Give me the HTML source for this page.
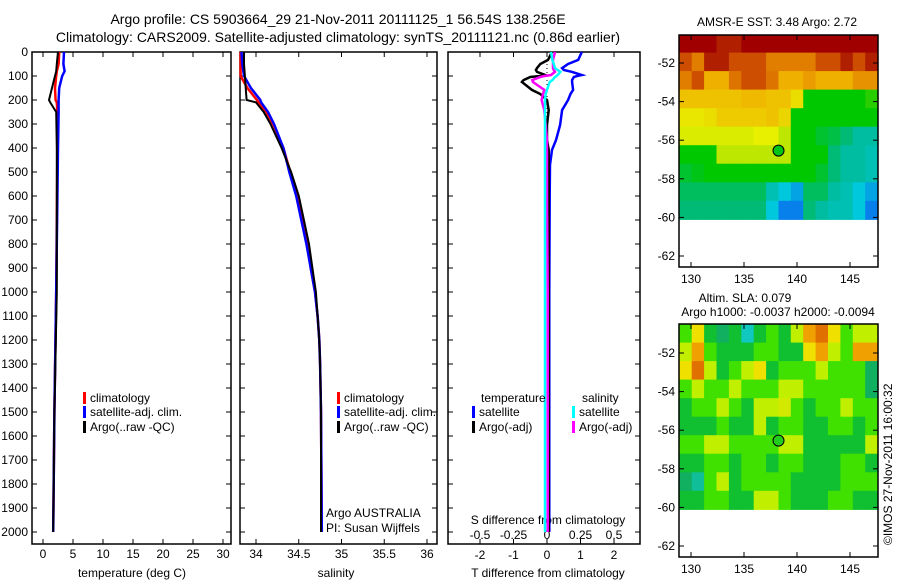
<!DOCTYPE html>
<html><head><meta charset="utf-8"><style>
html,body{margin:0;padding:0;background:#fff;}
svg{display:block;font-family:"Liberation Sans",sans-serif;}
</style></head><body>
<svg id="c" width="900" height="580" viewBox="0 0 900 580">
<text x="338" y="24" text-anchor="middle" font-size="14">Argo profile: CS 5903664_29 21-Nov-2011 20111125_1 56.54S 138.256E</text>
<text x="338" y="42" text-anchor="middle" font-size="14">Climatology: CARS2009. Satellite-adjusted climatology: synTS_20111121.nc (0.86d earlier)</text>
<text x="777" y="26" text-anchor="middle" font-size="12">AMSR-E SST: 3.48 Argo: 2.72</text>
<text x="745" y="302" text-anchor="middle" font-size="12">Altim. SLA: 0.079</text>
<text x="778" y="316" text-anchor="middle" font-size="12">Argo h1000: -0.0037 h2000: -0.0094</text>
<text transform="translate(892,545) rotate(-90)" font-size="12">©IMOS 27-Nov-2011 16:00:32</text>
<g id="g"></g>
</svg>
<script>
// ---- profile data ----
const depthT = [0,50,80,100,150,200,210,250,400,1000,1500,2000];
const tempClim = [2.7,2.6,2.3,2.2,2.0,2.1,2.3,2.4,2.4,2.2,1.9,1.7];
const tempSat  = [3.5,3.4,3.6,3.2,2.7,2.6,2.6,2.6,2.5,2.2,1.9,1.7];
const tempArgo = [2.5,2.3,2.2,2.0,1.5,1.0,1.2,2.2,2.3,2.3,1.9,1.7];
const depthS = [0,50,100,150,200,210,250,300,400,500,600,700,800,900,1000,1100,1200,1300,1500,2000];
const salClim = [33.82,33.82,33.82,33.9,34.01,34.03,34.12,34.2,34.32,34.4,34.48,34.54,34.6,34.64,34.69,34.72,34.74,34.75,34.76,34.77];
const salSat  = [33.83,33.84,33.86,33.94,34.05,34.06,34.14,34.21,34.32,34.39,34.47,34.53,34.59,34.64,34.69,34.72,34.74,34.75,34.76,34.77];
const salArgo = [33.86,33.86,33.87,33.88,33.89,34.0,34.09,34.17,34.3,34.41,34.5,34.56,34.62,34.66,34.7,34.72,34.74,34.75,34.76,34.76];
const depthD = [0,33,50,67,75,83,96,100,104,117,125,158,175,200,242,304,367,408,470,600,1000,2000];
const dTsat  = [1.04,0.93,0.63,0.45,0.5,0.75,1.04,0.9,0.8,0.75,0.75,0.78,0.7,0.63,0.45,0.39,0.27,0.15,0.09,0.08,0.07,0.07];
const dTargo = [0.15,0.03,-0.2,-0.3,-0.33,-0.3,-0.05,-0.2,-0.5,-0.7,-0.75,-0.45,-0.2,0.0,0.05,0.0,0.0,0.05,0.05,0.05,0.05,0.05];
const dSargo = [0.06,0.045,0.045,0.045,0.05,0.06,0.03,-0.02,-0.05,-0.11,-0.105,-0.02,-0.03,-0.04,-0.02,-0.01,0.0,0.0,0.0,0.0,0.005,0.005];
const dSsat  = [0.03,0.04,0.05,0.06,0.08,0.1,0.08,0.07,0.06,0.04,0.02,0.0,-0.01,-0.015,-0.015,-0.015,-0.015,-0.015,-0.015,-0.015,-0.015,-0.015];
const depthTicks = [0,100,200,300,400,500,600,700,800,900,1000,1100,1200,1300,1400,1500,1600,1700,1800,1900,2000];
const tTicks = [0,5,10,15,20,25,30];
const sTicks = ["34","34.5","35","35.5","36"];
const dTTicks = [-2,-1,0,1,2];
const dSTicks = ["-0.5","-0.25","0","0.25","0.5"];
// ---- map data ----
const sstGrid = [
[7,7,7,6.5,6.5,7,7,7,7,7,7,7,7,7,7,7],
[6,5.5,6.5,6.5,6,6,6,5.5,5.5,5.5,5.5,6,6,6.5,6,6.5],
[5.5,6,5,5,5.6,6,6,5.6,5,5,5.2,5,5,5,5.3,5.3],
[4.8,4.8,4.8,4.8,4.8,4.9,4.9,4.8,4.8,4.5,3,3,3,3,3,3.2],
[4.4,4.4,4.5,4.7,4.7,4.7,4.7,4.8,4.6,3,3,3,3,3,3,3],
[4.2,4.2,4.2,4.2,4.2,4.2,4.3,4.3,4,3,3,2.8,2.7,2.5,2.3,2.3],
[3,3,3,4,4,4,4,4,4,3,3,3,2.5,2.3,2.3,2.2],
[2.8,2.9,3,3,3,3,3,3,3,3,3,2.8,2.5,2.3,2.3,2.2],
[2.6,2.6,2.6,2.6,2.6,2.6,2.6,2.2,2.0,1.8,2.6,2.6,2.3,2.2,2.0,1.8],
[2.5,2.5,2.5,2.5,2.5,2.5,2.5,2.0,1.6,1.6,2.5,2.3,2.2,2.2,2.0,1.6]];
const slaGrid = [
[0.05,0.15,0,-0.05,0,-0.1,0,0.05,0,0.1,0.2,0.25,0.15,0.05,0.1,0.1],
[0.1,0.2,0.05,0,0,0,0.05,0.05,0,0,0.15,0.2,0.1,0.05,0.2,0.2],
[0.15,0.25,0.1,0,0.05,0.1,0.15,0,0.05,0.05,0.05,0.1,0.05,0.05,0.05,-0.05],
[0.05,0.1,0.05,0.05,0.1,0.05,0.05,0.05,0.1,0.1,0.05,0.05,0.05,0.05,0.05,-0.05],
[0,0.05,0.05,0.1,0.05,0,0.1,0.1,0.12,0.05,0,0.05,0.05,0.1,0.05,0.05],
[0,0,0,0.05,0,0,0.1,0,0.05,0.05,0,0,0.05,0.05,0,0.05],
[0.05,0.05,0.1,0.1,0.05,0.05,0.05,0.05,0.1,0.1,0,0,0,0,0,0.1],
[0,0,0.05,0.05,0,0.05,0.05,0,0.05,0.05,0,0,0,0.05,0.05,0],
[-0.05,-0.08,0.05,0.1,0,0.05,0.05,0.05,0.05,0,0,0,0,0.05,0.05,0.05],
[0,0,0.05,0.05,0,0,0.1,0.1,0.05,0,0,0,0.05,0.05,0,0]];
const argoLon = 138.256, argoLat = -56.54;
const lonTicks = [130,135,140,145];
const latTicks = [-52,-54,-56,-58,-60,-62];

const NS='http://www.w3.org/2000/svg';
const G=document.getElementById('g');
function mk(tag,at,name,parent){const e=document.createElementNS(NS,tag);for(const k in at)e.setAttribute(k,at[k]);


(parent||G).appendChild(e);return e;}
function txt(x,y,s,anchor,name,size){const t=mk('text',{x:x,y:y,'font-size':size||12,'text-anchor':anchor||'start'},name);t.textContent=s;return t;}

const Y0=52, PXD=0.24, TOP=52, BOT=544;
const dy=d=>Y0+d*PXD;
const xT=v=>43+v*6;
const xS=v=>256+(v-34)*85.5;
const xD=v=>547+v*33.5;
const xDS=v=>547+v*134;

function panel(x0,x1,name){mk('rect',{x:x0,y:TOP,width:x1-x0,height:BOT-TOP,fill:'none',stroke:'#000','stroke-width':1.5},name);
 depthTicks.forEach(d=>{mk('line',{x1:x0,x2:x0+5,y1:dy(d),y2:dy(d),stroke:'#000'},'y-tick');mk('line',{x1:x1-5,x2:x1,y1:dy(d),y2:dy(d),stroke:'#000'},'y-tick');});}
function line(xs,ds,fx,col,name,w){const p=xs.map((v,i)=>fx(v).toFixed(1)+','+dy(ds[i]).toFixed(1)).join(' ');
 mk('polyline',{points:p,fill:'none',stroke:col,'stroke-width':w||2.5},name);}

// panel 1
panel(32,231,'temperature-panel');
depthTicks.forEach(d=>txt(28,dy(d)+4,String(d),'end','depth-tick-label',12));
tTicks.forEach(v=>{const x=xT(v);mk('line',{x1:x,x2:x,y1:BOT,y2:BOT-5,stroke:'#000'},'x-tick');mk('line',{x1:x,x2:x,y1:TOP,y2:TOP+5,stroke:'#000'},'x-tick');txt(x,558,String(v),'middle','temp-tick-label',12);});
txt(132,577,'temperature (deg C)','middle','temperature-axis-title',12);
line(tempClim,depthT,xT,'#f00','temp-climatology');
line(tempSat,depthT,xT,'#00f','temp-satellite');
line(tempArgo,depthT,xT,'#000','temp-argo',2);

// panel 2
panel(240,437,'salinity-panel');
sTicks.forEach(s=>{const x=xS(+s);mk('line',{x1:x,x2:x,y1:BOT,y2:BOT-5,stroke:'#000'},'x-tick');mk('line',{x1:x,x2:x,y1:TOP,y2:TOP+5,stroke:'#000'},'x-tick');txt(x,558,s,'middle','sal-tick-label',12);});
txt(336,577,'salinity','middle','salinity-axis-title',12);
line(salClim,depthS,xS,'#f00','sal-climatology');
line(salSat,depthS,xS,'#00f','sal-satellite');
line(salArgo,depthS,xS,'#000','sal-argo',2);
txt(326,517,'Argo AUSTRALIA','start','argo-country',12);
txt(326,532,'PI: Susan Wijffels','start','argo-pi',12);

// panel 3
panel(448,640,'difference-panel');
dTTicks.forEach(v=>{const x=xD(v);mk('line',{x1:x,x2:x,y1:BOT,y2:BOT-5,stroke:'#000'},'x-tick');mk('line',{x1:x,x2:x,y1:TOP,y2:TOP+5,stroke:'#000'},'x-tick');txt(x,559,String(v),'middle','dt-tick-label',12);});
dSTicks.forEach(s=>{const x=xDS(+s);txt(x,539,s,'middle','ds-tick-label',12);});
txt(548,524,'S difference from climatology','middle','ds-axis-title',12);
txt(548,577,'T difference from climatology','middle','dt-axis-title',12);
mk('line',{x1:xD(0),x2:xD(0),y1:TOP,y2:dy(350),stroke:'#000','stroke-dasharray':'1,3'},'zero-line');
line(dTsat,depthD,xD,'#00f','dt-satellite');
line(dTargo,depthD,xD,'#000','dt-argo');
line(dSargo,depthD,xDS,'#f0f','ds-argo');
line(dSsat,depthD,xDS,'#0ff','ds-satellite');

// legends
function leg(x,y,col,label,name){mk('rect',{x:x,y:y-10,width:3,height:12,fill:col},name+'-swatch');txt(x+7,y,label,'start',name,12);}
leg(83,402,'#f00','climatology','legend-climatology');
leg(83,416,'#00f','satellite-adj. clim.','legend-satellite');
leg(83,431,'#000','Argo(..raw -QC)','legend-argo');
leg(337,402,'#f00','climatology','legend2-climatology');
leg(337,416,'#00f','satellite-adj. clim.','legend2-satellite');
leg(337,431,'#000','Argo(..raw -QC)','legend2-argo');
txt(481,402,'temperature','start','legend-temperature-header',12);
txt(582,402,'salinity','start','legend-salinity-header',12);
leg(472,416,'#00f','satellite','legend-t-satellite');
leg(472,431,'#000','Argo(-adj)','legend-t-argo');
leg(572,416,'#0ff','satellite','legend-s-satellite');
leg(572,431,'#f0f','Argo(-adj)','legend-s-argo');

// maps
function interp(stops,v){if(v<=stops[0][0])return stops[0][1];for(let i=1;i<stops.length;i++){if(v<=stops[i][0]){const a=stops[i-1],b=stops[i],t=(v-a[0])/(b[0]-a[0]);
 return a[1].map((q,k)=>Math.round(q+(b[1][k]-q)*t));}}return stops[stops.length-1][1];}
const sstStops=[[1.5,[10,110,240]],[2.0,[0,200,220]],[2.4,[0,184,140]],[3.0,[0,200,0]],[3.8,[160,224,0]],[4.3,[232,240,0]],[5.0,[240,176,0]],[5.8,[216,96,0]],[6.5,[176,32,0]],[7,[160,0,0]]];
const slaStops=[[-0.1,[16,200,192]],[-0.05,[16,176,96]],[0,[16,192,48]],[0.05,[64,224,0]],[0.1,[192,240,0]],[0.15,[240,224,0]],[0.2,[240,160,0]],[0.25,[224,112,0]]];
function drawMap(boxTop,boxBot,yAt52,yAt62,grid,stops,name){
 const X0=679,X1=878;const lx=v=>691+(v-130)*10.6;const ly=v=>yAt52+(-52-v)*(yAt62-yAt52)/10;
 const g=mk('g',{},name);
 const lonA=128.9,lonB=147.6,latA=-50.5,latB=-60.1;
 const rows=grid.length,cols=grid[0].length;
 for(let r=0;r<rows;r++)for(let c=0;c<cols;c++){
  const x0=lx(lonA+(lonB-lonA)*c/cols),x1=lx(lonA+(lonB-lonA)*(c+1)/cols);
  const y0=ly(latA+(latB-latA)*r/rows),y1=ly(latA+(latB-latA)*(r+1)/rows);
  const col=interp(stops,grid[r][c]);
  mk('rect',{x:Math.max(X0,x0).toFixed(1),y:Math.max(boxTop,y0).toFixed(1),width:(Math.min(X1,x1)-Math.max(X0,x0)+0.6).toFixed(1),height:(y1-Math.max(boxTop,y0)+0.6).toFixed(1),fill:'rgb('+col.join(',')+')'},'map-cell',g);
 }
 mk('rect',{x:X0,y:boxTop,width:X1-X0,height:boxBot-boxTop,fill:'none',stroke:'#000','stroke-width':1.5},name+'-frame');
 lonTicks.forEach(v=>{const x=lx(v);mk('line',{x1:x,x2:x,y1:boxBot,y2:boxBot-5,stroke:'#000'},'lon-tick');mk('line',{x1:x,x2:x,y1:boxTop,y2:boxTop+5,stroke:'#000'},'lon-tick');txt(x,boxBot+16,String(v),'middle','lon-tick-label',12);});
 latTicks.forEach(v=>{const y=ly(v);mk('line',{x1:X0,x2:X0+5,y1:y,y2:y,stroke:'#000'},'lat-tick');mk('line',{x1:X1-5,x2:X1,y1:y,y2:y,stroke:'#000'},'lat-tick');txt(X0-4,y+4,String(v),'end','lat-tick-label',12);});
 mk('circle',{cx:lx(argoLon),cy:ly(argoLat),r:5.5,fill:'rgb('+interp(stops,name==='sst-map'?2.9:0.02).join(',')+')',stroke:'#000','stroke-width':1},'argo-location-marker');
}
drawMap(35,267,63,256,sstGrid,sstStops,'sst-map');
drawMap(324,557,353,546,slaGrid,slaStops,'sla-map');
</script>
</body></html>
